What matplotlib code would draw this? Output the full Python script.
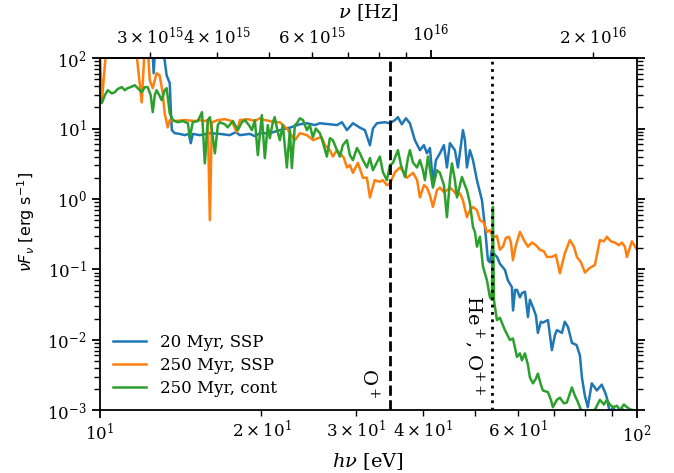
import numpy as np
import matplotlib.pyplot as plt

plt.rcParams['font.family'] = 'DejaVu Serif'
plt.rcParams['mathtext.fontset'] = 'dejavuserif'
plt.rcParams['axes.linewidth'] = 1.3
for ax_name in ('xtick', 'ytick'):
    plt.rcParams[ax_name + '.major.size'] = 6
    plt.rcParams[ax_name + '.major.width'] = 1.3
    plt.rcParams[ax_name + '.minor.size'] = 4
    plt.rcParams[ax_name + '.minor.width'] = 1.0

# photon energy in eV and nu*F_nu in erg/s for each model spectrum
e_20ssp = [10.0, 11.87, 12.5, 12.6, 12.71, 13.1, 13.32, 13.5, 13.56, 13.62, 13.79, 14.09, 14.39, 14.65, 14.77, 14.9,
           15.36, 16.03, 16.73, 17.46, 17.92, 18.23, 19.03, 19.44, 19.86, 20.73, 21.64, 22.59, 23.58, 24.3, 25.15,
           25.69, 26.82, 27.64, 28.24, 28.85, 29.6, 30.5, 31.16, 31.84, 32.25, 32.8, 33.9, 34.69, 35.44, 35.9, 36.5,
           37.15, 37.79, 38.6, 39.45, 40.13, 40.65, 41.18, 41.71, 42.25, 42.98, 43.72, 44.29, 44.86, 45.83, 46.43,
           47.03, 47.43, 47.84, 48.25, 48.88, 49.52, 50.37, 51.46, 52.13, 52.8, 53.25, 53.7, 54.4, 54.9, 55.58, 56.8,
           57.5, 58.5, 58.8, 59.3, 59.8, 60.56, 61.1, 61.9, 62.67, 63.21, 64.03, 64.86, 65.4, 66.25, 66.8, 68.3,
           69.45, 70.35, 70.96, 72.5, 73.4, 74.4, 75.7, 77.2, 78.31, 79.0, 80.0, 81.0, 82.4, 84.2, 86.0, 87.2, 87.9,
           89.05, 90.2, 91.6, 93.8, 96.2, 100.0]
f_20ssp = [300, 300, 200, 61, 200, 150, 57, 44, 18.2, 9.5, 8.6, 8.4, 8.06, 8.4, 6.2, 8.4,
           8.06, 8.6, 8.4, 8.06, 8.9, 8.06, 8.4, 7.8, 8.6, 8.6, 9.5, 10.3, 11.5, 11.9, 11.2,
           11.9, 11.5, 11.2, 12.3, 9.5, 11.9, 10.3, 9.5, 5.8, 10.0, 11.9, 12.3, 11.9, 13.2, 14.5, 11.5,
           14.0, 11.9, 6.84, 4.93, 5.81, 4.45, 5.3, 1.68, 3.56, 4.45, 5.81, 2.8, 6.2, 4.93, 2.8,
           5.81, 9.5, 6.84, 2.8, 4.93, 3.56, 1.85, 0.96, 0.40, 0.135, 0.126, 0.19, 0.16, 0.15, 0.12, 0.098,
           0.070, 0.056, 0.026, 0.051, 0.051, 0.040, 0.046, 0.048, 0.021, 0.037, 0.029, 0.022, 0.0125, 0.018, 0.0175, 0.019,
           0.0071, 0.0116, 0.0137, 0.0125, 0.018, 0.0152, 0.009, 0.0084, 0.006, 0.0029, 0.0016, 0.0011, 0.0024, 0.0019, 0.0023, 0.0018, 0.0015,
           0.0009, 0.0011, 0.0009, 0.00105, 0.0008, 0.0007]

e_250ssp = [10.0, 10.09, 10.22, 10.35, 11.62, 11.77, 11.97, 12.13, 12.28, 12.39, 12.55, 12.76, 12.93, 13.1, 13.21,
            13.38, 13.5, 13.79, 14.39, 15.03, 15.36, 15.69, 15.89, 16.03, 16.17, 16.59, 17.1, 17.6, 17.99, 18.23,
            18.86, 19.44, 19.86, 20.29, 20.73, 21.17, 21.64, 22.3, 23.08, 23.58, 24.3, 24.97, 25.47, 25.9, 26.25,
            26.82, 27.16, 27.64, 27.99, 28.47, 28.85, 29.22, 29.6, 30.24, 30.9, 31.43, 31.84, 32.1, 32.5, 33.23,
            33.66, 34.24, 34.69, 35.44, 36.21, 36.84, 37.31, 38.3, 38.97, 39.45, 40.13, 40.65, 41.18, 41.71, 42.43,
            42.98, 43.72, 44.29, 44.86, 45.44, 46.24, 46.83, 47.43, 48.25, 48.88, 49.52, 50.37, 51.02, 51.9, 52.57,
            53.25, 53.94, 54.87, 55.58, 56.3, 57.03, 57.77, 58.27, 58.77, 59.54, 60.56, 61.61, 62.67, 63.76, 64.86,
            65.97, 67.12, 67.99, 69.45, 70.66, 71.88, 73.43, 75.02, 76.32, 77.31, 78.65, 80.03, 81.74, 83.5, 85.32,
            86.8, 87.9, 89.43, 91.0, 92.55, 93.76, 94.97, 95.8, 97.86, 100.0]
f_250ssp = [150, 23.5, 80, 200, 200, 80, 23.5, 150, 150, 48.7, 37.5, 61, 57, 31.6, 16.5,
            10.4, 13.2, 12.8, 13.2, 12.8, 13.2, 12.8, 13.2, 0.5, 12.3, 13.2, 13.6, 12.8, 8.9, 13.2,
            13.6, 12.8, 14.0, 13.2, 12.8, 12.3, 12.3, 10.0, 6.84, 8.6, 8.06, 6.84, 7.3, 7.5, 5.81,
            4.93, 4.0, 4.93, 4.45, 3.85, 2.8, 3.02, 2.35, 3.25, 2.0, 2.0, 1.05, 1.33, 1.85, 1.75,
            1.85, 1.57, 1.65, 2.4, 2.8, 2.4, 2.0, 2.35, 1.85, 1.05, 1.57, 1.45, 1.13, 0.77, 1.33,
            1.45, 1.25, 1.33, 1.45, 1.33, 1.13, 1.2, 0.96, 0.55, 0.69, 0.77, 0.69, 0.5, 0.46, 0.34,
            0.36, 0.28, 0.30, 0.19, 0.21, 0.28, 0.29, 0.24, 0.135, 0.22, 0.34, 0.26, 0.21, 0.24, 0.22,
            0.19, 0.18, 0.15, 0.15, 0.16, 0.088, 0.17, 0.26, 0.21, 0.15, 0.126, 0.09, 0.105, 0.115, 0.26,
            0.25, 0.29, 0.25, 0.24, 0.22, 0.24, 0.21, 0.15, 0.25, 0.19]

e_250cont = [10.0, 10.09, 10.22, 10.35, 10.53, 10.67, 10.8, 10.99, 11.13, 11.27, 11.42, 11.62, 11.77, 11.97, 12.13,
             12.28, 12.44, 12.55, 12.66, 12.76, 12.93, 13.04, 13.21, 13.32, 13.5, 13.68, 13.97, 14.27, 14.59, 14.71,
             14.9, 15.23, 15.5, 15.69, 15.89, 16.03, 16.17, 16.38, 16.59, 16.73, 17.1, 17.31, 17.69, 18.07, 18.39,
             18.63, 18.95, 19.2, 19.44, 19.69, 20.03, 20.29, 20.55, 20.73, 21.0, 21.17, 21.45, 21.64, 21.92, 22.3,
             22.59, 22.78, 23.08, 23.28, 23.58, 23.89, 24.3, 24.61, 24.93, 25.25, 25.69, 26.02, 26.47, 26.82, 27.16,
             27.64, 27.99, 28.35, 28.85, 29.22, 29.6, 30.11, 30.5, 30.9, 31.43, 31.84, 32.25, 32.81, 33.23, 33.66,
             34.24, 34.69, 35.14, 35.9, 36.37, 37.0, 37.47, 37.79, 38.28, 38.95, 39.45, 39.96, 40.3, 40.83, 41.36,
             41.71, 42.43, 42.98, 43.72, 44.29, 44.86, 45.25, 45.83, 46.24, 46.83, 47.23, 47.84, 48.25, 48.88, 49.52,
             49.94, 50.37, 51.02, 51.68, 52.57, 53.25, 53.7, 53.94, 54.17, 54.87, 55.58, 56.78, 58.02, 58.77, 59.8,
             60.56, 61.08, 61.87, 62.67, 63.21, 64.03, 64.86, 65.4, 66.25, 66.82, 68.3, 69.15, 69.75, 70.96, 71.88,
             73.1, 74.05, 75.67, 76.65, 77.31, 78.98, 80.72, 82.45, 83.88, 85.32, 86.8, 87.9, 89.05, 90.2, 91.8,
             92.95, 94.55, 95.8, 97.02, 98.3, 100.0]
f_250cont = [29.8, 23, 29.8, 35.1, 31.6, 32.9, 36.5, 38.8, 35.1, 37.5, 38.8, 41.3, 37.5, 32.9, 38.8,
             38.8, 29.8, 17.1, 29.8, 35.1, 28.9, 25.3, 35.1, 37.5, 16.5, 13.2, 12.3, 12.8, 11.9, 7.5,
             12.3, 12.8, 17.1, 3.2, 13.2, 14.5, 9.5, 4.45, 11.2, 12.3, 11.5, 10.4, 12.8, 9.5, 12.3,
             13.2, 11.2, 9.5, 13.2, 4.19, 15.5, 3.8, 11.2, 7.3, 12.3, 14.5, 8.9, 6.84, 11.2, 2.8,
             9.5, 2.75, 11.2, 11.9, 14.0, 13.2, 9.5, 11.2, 7.5, 10.0, 8.6, 6.4, 4.0, 7.3, 6.84,
             4.93, 4.0, 5.81, 6.84, 4.19, 3.56, 5.3, 4.45, 3.56, 2.8, 3.8, 2.56, 3.3, 4.0, 2.4,
             1.85, 3.02, 3.25, 4.93, 3.02, 2.05, 3.8, 4.93, 3.3, 2.8, 3.56, 2.56, 1.85, 4.0, 2.18,
             1.45, 2.56, 2.35, 1.57, 0.55, 1.85, 3.2, 1.85, 1.05, 1.57, 2.05, 1.57, 1.33, 0.87, 0.40,
             0.34, 0.21, 0.29, 0.11, 0.070, 0.040, 0.037, 0.77, 0.037, 0.019, 0.0205, 0.0137, 0.0099, 0.0104, 0.0057,
             0.0064, 0.0051, 0.0064, 0.0044, 0.0029, 0.0024, 0.0028, 0.0033, 0.0023, 0.0019, 0.0018, 0.0014, 0.0011, 0.0014, 0.0015,
             0.00125, 0.00128, 0.0021, 0.0016, 0.0014, 0.00094, 0.00092, 0.00088, 0.00108, 0.0014, 0.0012, 0.0014, 0.0012, 0.0011, 0.00115,
             0.001, 0.0012, 0.0011, 0.00103, 0.001, 0.00095]

labels = ['20 Myr, SSP', '250 Myr, SSP', '250 Myr, cont']

# ionisation edges marked on the plot (eV)
e_Oplus = 34.7
e_Heplus = 53.8

ev_to_hz = 2.418e14

def ev2hz(e):
    return e * ev_to_hz

def hz2ev(nu):
    return nu / ev_to_hz

fig, ax = plt.subplots(figsize=(6.74, 4.73), dpi=100)
fig.subplots_adjust(left=0.148, right=0.945, top=0.877, bottom=0.133)

ax.plot(e_20ssp, f_20ssp, lw=1.8, label=labels[0])
ax.plot(e_250ssp, f_250ssp, lw=1.8, label=labels[1])
ax.plot(e_250cont, f_250cont, lw=1.8, label=labels[2])

ax.axvline(e_Oplus, color='k', ls='--', lw=2)
ax.axvline(e_Heplus, color='k', ls=':', lw=2)
ax.text(31.7, 1.45e-3, r'O$^+$', rotation=-90, ha='center', va='bottom', fontsize=14)
ax.text(49.8, 1.6e-3, r'He$^+$, O$^{++}$', rotation=-90, ha='center', va='bottom', fontsize=14)

ax.set_xscale('log')
ax.set_yscale('log')
ax.set_xlim(10, 100)
ax.set_ylim(1e-3, 1e2)
ax.tick_params(which='both', right=True, labelsize=12)

ax.set_xlabel(r'$h\nu$ [eV]', fontsize=14)
ax.set_ylabel(r'$\nu F_\nu$ [erg s$^{-1}$]', fontsize=11.5, family='DejaVu Sans', math_fontfamily='dejavusans')
ax.yaxis.set_label_coords(-0.117, 0.534)

top = ax.secondary_xaxis('top', functions=(ev2hz, hz2ev))
top.set_xlabel(r'$\nu$ [Hz]', fontsize=14)
top.tick_params(which='both', labelsize=12)

ax.legend(loc='lower left', frameon=False, fontsize=12, labelspacing=0.35, borderaxespad=0.4)

plt.savefig('out.png')
